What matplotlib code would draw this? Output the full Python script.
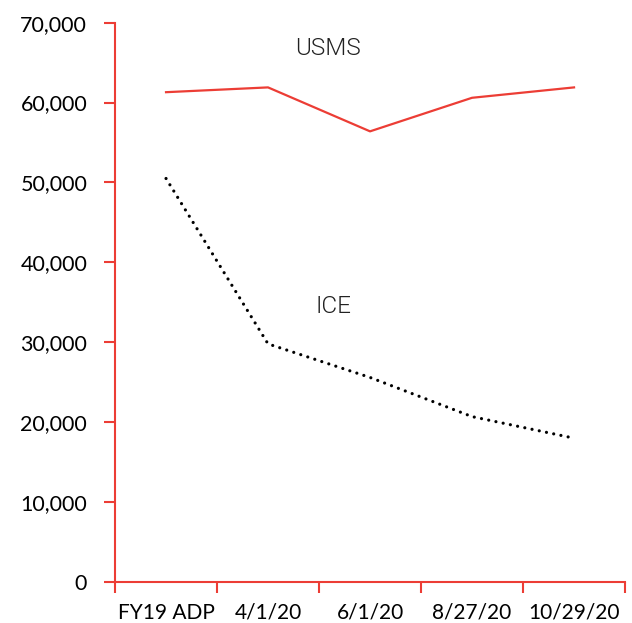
import matplotlib
matplotlib.use("Agg")
import matplotlib.pyplot as plt
from matplotlib.ticker import FuncFormatter

categories = ["FY19 ADP", "4/1/20", "6/1/20", "8/27/20", "10/29/20"]
usms = [61300, 61900, 56400, 60600, 61900]
ice = [50500, 29800, 25600, 20700, 18000]

RED = "#ec3d35"
plt.rcParams['font.family'] = ['Lato', 'DejaVu Sans']

fig = plt.figure(figsize=(6.32, 6.23), dpi=100)
ax = fig.add_axes([0.182, 0.0658, 0.807, 0.8978])

x = list(range(len(categories)))
ax.plot(x, usms, color=RED, lw=1.6)
ax.plot(x, ice, color="black", lw=2.3, linestyle=(0, (0.01, 2.3)), dash_capstyle="round")

ax.set_xlim(-0.5, len(categories) - 0.5)
ax.set_ylim(0, 70000)
ax.set_yticks(range(0, 70001, 10000))
ax.yaxis.set_major_formatter(FuncFormatter(lambda v, p: f"{int(v):,}"))
ax.set_xticks([i - 0.5 for i in range(len(categories) + 1)])
ax.set_xticklabels([])
ax.set_xticks(x, minor=True)
ax.set_xticklabels(categories, minor=True)
ax.tick_params(axis="x", which="minor", length=0, pad=15, labelsize=15)
ax.tick_params(axis="x", which="major", length=8, color=RED, width=1.5)
ax.tick_params(axis="y", length=8, color=RED, width=1.5, labelsize=15.5, pad=12)

for s in ["top", "right"]:
    ax.spines[s].set_visible(False)
for s in ["left", "bottom"]:
    ax.spines[s].set_color(RED)
    ax.spines[s].set_linewidth(1.5)

lab = dict(fontsize=17.5, family=["Roboto", "DejaVu Sans"], fontweight=300, color="#222222", ha="center", va="center")
ax.text(2 - 0.41, 66800, "USMS", **lab)
ax.text(2 - 0.36, 34500, "ICE", **lab)

fig.savefig("out.png", dpi=100, facecolor="white")
